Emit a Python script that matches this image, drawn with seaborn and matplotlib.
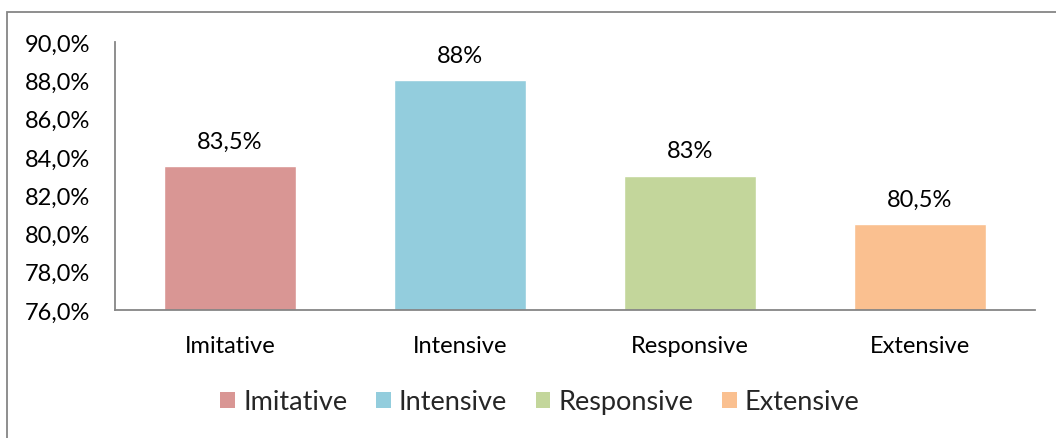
import matplotlib
matplotlib.use("Agg")
import matplotlib.pyplot as plt
import seaborn as sns
import pandas as pd
from matplotlib.patches import Patch, Rectangle
from matplotlib.ticker import FuncFormatter

categories = ["Imitative", "Intensive", "Responsive", "Extensive"]
values = [83.5, 88.0, 83.0, 80.5]
value_labels = ["83,5%", "88%", "83%", "80,5%"]
colors = ["#D99694", "#93CDDD", "#C3D69B", "#FAC090"]
yticks = [76, 78, 80, 82, 84, 86, 88, 90]

sns.set_theme(style="white")
plt.rcParams['font.family'] = ['Lato', 'DejaVu Sans']

df = pd.DataFrame({"cat": categories, "val": values})

fig = plt.figure(figsize=(10.56, 4.39), dpi=100)
ax = fig.add_axes([115/1056, 1-311/439, (1035-115)/1056, (311-43)/439])

sns.barplot(data=df, x="cat", y="val", hue="cat", palette=colors, width=0.574,
            legend=False, ax=ax, saturation=1)

ax.set_ylim(76, 90)
ax.set_yticks(yticks)
ax.yaxis.set_major_formatter(FuncFormatter(lambda v, p: f"{v:.1f}%".replace(".", ",")))
ax.set_xlim(-0.5, 3.5)
ax.set_xlabel("")
ax.set_ylabel("")
ax.tick_params(axis="y", length=0, pad=18, labelsize=17, labelcolor="#000000")
ax.tick_params(axis="x", length=0, pad=18, labelsize=17, labelcolor="#000000")
for s in ["top", "right"]:
    ax.spines[s].set_visible(False)
for s in ["left", "bottom"]:
    ax.spines[s].set_color("#868686")
    ax.spines[s].set_linewidth(1.3)

for i, (v, lab) in enumerate(zip(values, value_labels)):
    ax.annotate(lab, (i, v), xytext=(0, 18), textcoords="offset points",
                ha="center", va="center", fontsize=17, color="#000000")

handles = [Patch(facecolor=c, edgecolor="none", label=l) for c, l in zip(colors, categories)]
fig.legend(handles=handles, loc="center", bbox_to_anchor=(540/1056, 1-403/439), ncol=4,
           frameon=False, fontsize=19.5, handlelength=0.55, handleheight=0.55,
           handletextpad=0.3, columnspacing=1.05)

fig.patches.append(Rectangle((7/1056, -0.05), 1.1, 1-13/439+0.05, transform=fig.transFigure,
                             fill=False, edgecolor="#868686", linewidth=1.3, zorder=10))

fig.savefig("out.png", dpi=100)
